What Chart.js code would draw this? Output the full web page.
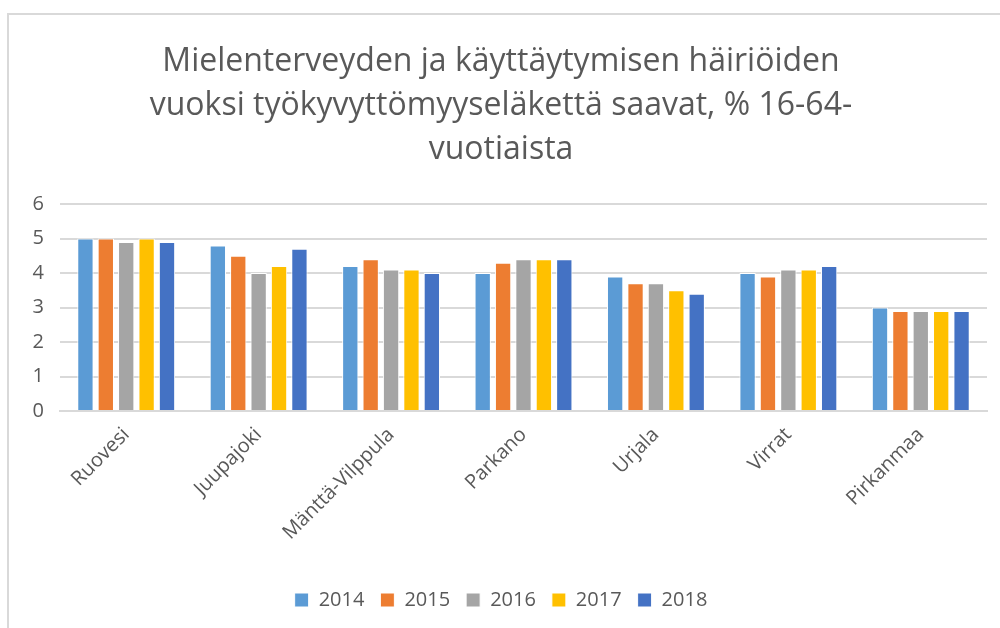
<!DOCTYPE html>
<html>
<head>
<meta charset="utf-8">
<script src="https://cdn.jsdelivr.net/npm/chart.js@4"></script>
<style>
  body { margin: 0; background: #fff; }
  #wrap { position: relative; width: 1000px; height: 628px; }
  #frame { position: absolute; left: 7px; top: 13px; right: 0; bottom: 0;
           border-top: 2px solid #d9d9d9; border-left: 2px solid #d9d9d9; }
  canvas { position: absolute; left: 0; top: 0; }
</style>
</head>
<body>
<div id="wrap">
  <div id="frame"></div>
  <canvas id="chart" width="1000" height="628"></canvas>
</div>
<script>
const kunnat = ['Ruovesi', 'Juupajoki', 'Mänttä-Vilppula', 'Parkano', 'Urjala', 'Virrat', 'Pirkanmaa'];
const v2014 = [5.0, 4.8, 4.2, 4.0, 3.9, 4.0, 3.0];
const v2015 = [5.0, 4.5, 4.4, 4.3, 3.7, 3.9, 2.9];
const v2016 = [4.9, 4.0, 4.1, 4.4, 3.7, 4.1, 2.9];
const v2017 = [5.0, 4.2, 4.1, 4.4, 3.5, 4.1, 2.9];
const v2018 = [4.9, 4.7, 4.0, 4.4, 3.4, 4.2, 2.9];
const yTicks = [0, 1, 2, 3, 4, 5, 6];

const fontFam = "'Open Sans', 'Noto Sans', sans-serif";
const textColor = '#595959';
const gridColor = '#d9d9d9';

function sarja(label, data, color) {
    return {
        label: label,
        data: data,
        backgroundColor: color,
        borderColor: '#ffffff',
        borderWidth: 1,
        categoryPercentage: 0.77,
        barPercentage: 0.8
    };
}

const ctx = document.getElementById('chart').getContext('2d');

const chart = new Chart(ctx, {
    type: 'bar',
    data: {
        labels: kunnat,
        datasets: [
            sarja('2014', v2014, '#5B9BD5'),
            sarja('2015', v2015, '#ED7D31'),
            sarja('2016', v2016, '#A5A5A5'),
            sarja('2017', v2017, '#FFC000'),
            sarja('2018', v2018, '#4472C4')
        ]
    },
    options: {
        responsive: false,
        animation: false,
        layout: { padding: { left: 15, right: 13, top: 0, bottom: 8 } },
        plugins: {
            title: {
                display: true,
                text: ['Mielenterveyden ja käyttäytymisen häiriöiden',
                       'vuoksi työkyvyttömyyseläkettä saavat, % 16-64-',
                       'vuotiaista'],
                color: textColor,
                font: { family: fontFam, size: 32, weight: 'normal', lineHeight: 1.375 },
                padding: { top: 40, bottom: 32 }
            },
            legend: {
                position: 'bottom',
                labels: {
                    color: textColor,
                    font: { family: fontFam, size: 20 },
                    boxWidth: 14,
                    boxHeight: 14,
                    padding: 16
                }
            },
            tooltip: { enabled: false }
        },
        scales: {
            x: {
                grid: { display: false },
                border: { display: true, color: gridColor, width: 2 },
                ticks: {
                    color: textColor,
                    font: { family: fontFam, size: 20 },
                    minRotation: 45,
                    maxRotation: 45,
                    padding: 4
                },
                afterFit: function (scale) { scale.height = 163; }
            },
            y: {
                min: 0,
                max: 6,
                afterBuildTicks: function (scale) {
                    scale.ticks = yTicks.map(v => ({ value: v }));
                },
                grid: { color: gridColor, lineWidth: 2, drawTicks: false },
                border: { display: false },
                ticks: {
                    color: textColor,
                    font: { family: fontFam, size: 20 },
                    padding: 16
                },
                afterFit: function (scale) { scale.width = 45; }
            }
        }
    }
});
</script>
</body>
</html>
